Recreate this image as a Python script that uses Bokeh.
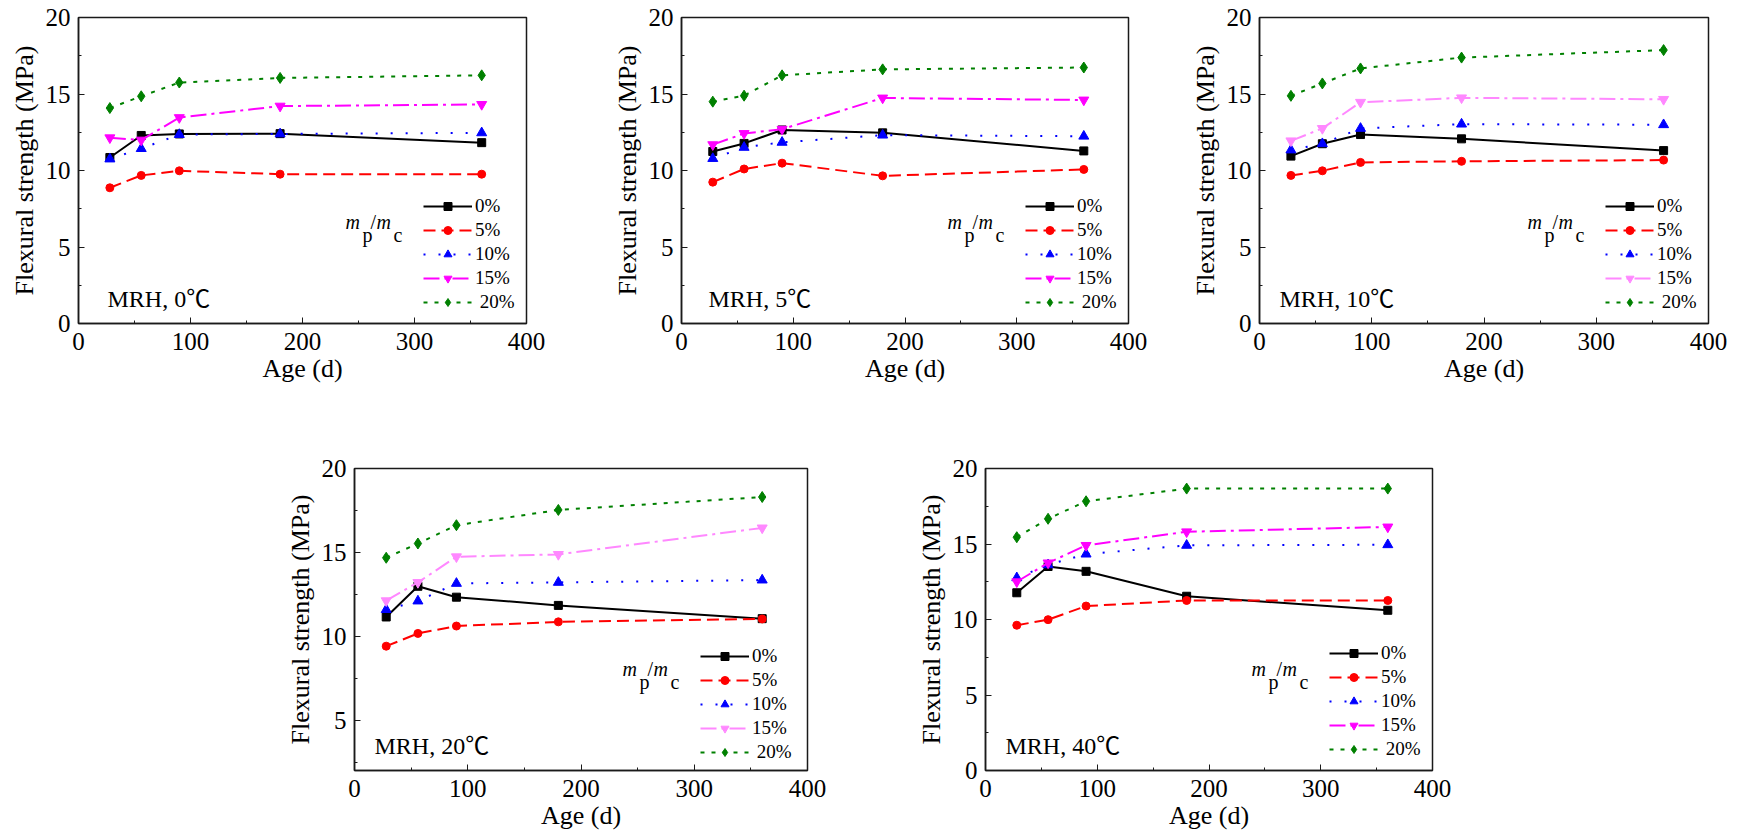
from bokeh.plotting import figure
from bokeh.layouts import row, column, Spacer
from bokeh.models import Legend, LegendItem, Label, FixedTicker, Range1d
from bokeh.embed import file_html
from bokeh.resources import INLINE

# ---------------- data ----------------
ages = [28, 56, 90, 180, 360]
series_labels = ["0%", "5%", "10%", "15%", "\u00a020%"]
x_ticks = [0, 100, 200, 300, 400]
temps = ["0", "5", "10", "20", "40"]

t0_p0 = [10.85, 12.29, 12.39, 12.41, 11.82]
t0_p5 = [8.87, 9.68, 9.98, 9.76, 9.76]
t0_p10 = [10.75, 11.43, 12.35, 12.39, 12.46]
t0_p15 = [12.14, 11.99, 13.46, 14.21, 14.32]
t0_p20 = [14.08, 14.85, 15.75, 16.05, 16.22]

t5_p0 = [11.24, 11.77, 12.65, 12.46, 11.28]
t5_p5 = [9.24, 10.10, 10.48, 9.65, 10.07]
t5_p10 = [10.78, 11.51, 11.84, 12.31, 12.24]
t5_p15 = [11.69, 12.42, 12.70, 14.74, 14.61]
t5_p20 = [14.50, 14.89, 16.22, 16.61, 16.73]

t10_p0 = [10.94, 11.75, 12.35, 12.07, 11.30]
t10_p5 = [9.68, 9.98, 10.53, 10.60, 10.68]
t10_p10 = [11.34, 11.75, 12.75, 13.03, 12.99]
t10_p15 = [11.94, 12.75, 14.46, 14.75, 14.65]
t10_p20 = [14.88, 15.69, 16.67, 17.38, 17.87]

t20_p0 = [11.15, 12.98, 12.33, 11.84, 11.05]
t20_p5 = [9.41, 10.17, 10.61, 10.86, 11.03]
t20_p10 = [11.59, 12.10, 13.15, 13.21, 13.35]
t20_p15 = [12.12, 13.21, 14.74, 14.88, 16.46]
t20_p20 = [14.68, 15.53, 16.62, 17.53, 18.30]

t40_p0 = [11.77, 13.51, 13.19, 11.54, 10.61]
t40_p5 = [9.62, 9.99, 10.89, 11.26, 11.26]
t40_p10 = [12.76, 13.62, 14.33, 14.91, 14.95]
t40_p15 = [12.50, 13.75, 14.91, 15.81, 16.13]
t40_p20 = [15.45, 16.67, 17.83, 18.67, 18.67]

# ---------------- styles ----------------
FONT = "'Liberation Serif', 'Times New Roman', serif"
FONT_MRH = "'Liberation Serif', 'Noto Sans CJK SC', serif"
AXC = "#1a1a1a"
markers = ["square", "circle", "triangle", "inverted_triangle", "diamond"]
msizes = [8, 8, 10, 10, 11]
dashes = ["solid", "12 6", "2 13", "16 5 3 5", "4 7"]
base_colors = ["#000000", "#ff0000", "#0000ff", None, "#008000"]


def make_panel(temp, series, ymin, yticks, fw, fh, bl, br, bt, bb, c15, mrh_dx, leg_dx=103, leg_bottom=10):
    p = figure(width=bl + fw + br, height=bt + fh + bb,
               x_range=Range1d(0, 400), y_range=Range1d(ymin, 20),
               output_backend="svg", toolbar_location=None,
               min_border_left=bl, min_border_right=br,
               min_border_top=bt, min_border_bottom=bb)
    p.grid.visible = False
    p.background_fill_color = "white"
    p.border_fill_color = "white"
    p.outline_line_color = AXC
    p.outline_line_width = 1.5

    p.xaxis.ticker = FixedTicker(ticks=x_ticks, minor_ticks=[50, 150, 250, 350])
    p.yaxis.ticker = FixedTicker(ticks=yticks, minor_ticks=[2.5, 7.5, 12.5, 17.5])
    p.xaxis.axis_label = "Age (d)"
    p.yaxis.axis_label = "Flexural strength (MPa)"
    for ax in (p.xaxis, p.yaxis):
        ax.axis_line_color = AXC
        ax.axis_line_width = 1.5
        ax.major_tick_line_color = AXC
        ax.minor_tick_line_color = AXC
        ax.major_tick_in = 6
        ax.major_tick_out = 0
        ax.minor_tick_in = 3
        ax.minor_tick_out = 0
        ax.major_label_text_font = FONT
        ax.major_label_text_font_size = "25px"
        ax.major_label_text_color = "black"
        ax.axis_label_text_font = FONT
        ax.axis_label_text_font_size = "26px"
        ax.axis_label_text_font_style = "normal"
        ax.axis_label_text_color = "black"
    p.xaxis.major_label_standoff = 9
    p.xaxis.axis_label_standoff = 1
    p.yaxis.major_label_standoff = 8
    p.yaxis.axis_label_standoff = 4

    items = []
    for i, vals in enumerate(series):
        col = c15 if i == 3 else base_colors[i]
        lr = p.line(ages, vals, line_color=col, line_width=2, line_dash=dashes[i])
        sr = p.scatter(ages, vals, marker=markers[i], size=msizes[i],
                       fill_color=col, line_color=col)
        items.append(LegendItem(label=series_labels[i], renderers=[lr, sr]))

    legend = Legend(items=items, location=(fw - leg_dx, leg_bottom),
                    border_line_color=None, background_fill_alpha=0,
                    padding=0, margin=0, spacing=2, glyph_width=49,
                    glyph_height=20, label_height=20, label_standoff=3,
                    label_text_font=FONT, label_text_font_size="19px",
                    label_text_color="black")
    p.add_layout(legend)

    # m_p / m_c label, positioned relative to the frame's bottom-right corner
    base = 102
    parts = [("m", "italic", -leg_dx - 78, base),
             ("p", "normal", -leg_dx - 61, base - 13),
             ("/", "normal", -leg_dx - 53, base),
             ("m", "italic", -leg_dx - 47, base),
             ("c", "normal", -leg_dx - 30, base - 13)]
    for txt, style, dx, dy in parts:
        p.add_layout(Label(x=400, y=ymin, x_offset=dx, y_offset=dy, text=txt,
                           text_font=FONT, text_font_style=style,
                           text_font_size="20px", text_baseline="alphabetic",
                           text_align="left", text_color="black"))

    p.add_layout(Label(x=0, y=ymin, x_offset=mrh_dx, y_offset=25,
                       text="MRH, " + temp + "\u2103",
                       text_font=FONT_MRH, text_font_size="24px",
                       text_baseline="alphabetic", text_align="left",
                       text_color="black"))
    return p


y_ticks_full = [0, 5, 10, 15, 20]
y_ticks_p4 = [5, 10, 15, 20]

# frame sizes / borders chosen so the plot areas sit where the reference has them
f1 = make_panel(temps[0], [t0_p0, t0_p5, t0_p10, t0_p15, t0_p20], 0, y_ticks_full,
                448, 312, 78, 74, 17, 68, "#ff00ff", 29)
f2 = make_panel(temps[1], [t5_p0, t5_p5, t5_p10, t5_p15, t5_p20], 0, y_ticks_full,
                447, 310, 81, 58, 17, 70, "#ff00ff", 27)
f3 = make_panel(temps[2], [t10_p0, t10_p5, t10_p10, t10_p15, t10_p20], 0, y_ticks_full,
                449, 309, 73, 30, 14, 74, "#ff88ff", 20)
f4 = make_panel(temps[3], [t20_p0, t20_p5, t20_p10, t20_p15, t20_p20], 2, y_ticks_p4,
                453, 304, 79, 103, 69, 68, "#ff88ff", 20, leg_dx=107, leg_bottom=7)
f5 = make_panel(temps[4], [t40_p0, t40_p5, t40_p10, t40_p15, t40_p20], 0, y_ticks_full,
                447, 302, 75, 30, 71, 68, "#ff00ff", 20)

layout = column(row(f1, f2, f3), row(Spacer(width=275, height=10), f4, f5))

open("out.html", "w").write(file_html(layout, INLINE))
